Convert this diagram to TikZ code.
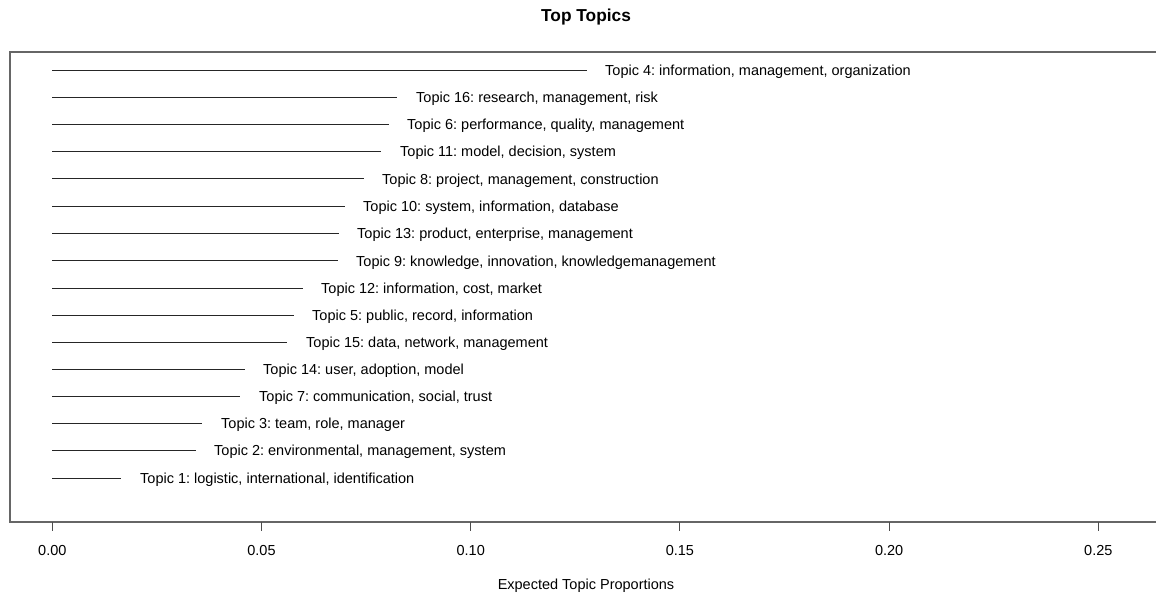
\documentclass[tikz,border=0pt]{standalone}
\usepackage{fontspec}
\setmainfont{Liberation Sans}
\frenchspacing
\begin{document}
\begin{tikzpicture}[x=1pt,y=-1pt,
  lbl/.style={anchor=base west,inner sep=0pt,font=\fontsize{14.5}{17}\selectfont},
  ticklbl/.style={anchor=center,inner sep=0pt,font=\fontsize{14.5}{17}\selectfont},
  bar/.style={draw=black!85,line width=0.9pt},
  frame/.style={draw=black!60,line width=1.3pt},
  tickmark/.style={draw=black!70,line width=0.9pt}]
\useasboundingbox (0,0) rectangle (1156,598);
% title
\node[font=\fontsize{17.3}{20}\selectfont\bfseries,inner sep=0pt] (title) at (586,17.5) {Top Topics};
% frame (open at the right, cut by the image edge)
\coordinate (fTR) at (1156,52);
\coordinate (fTL) at (10,52);
\coordinate (fBL) at (10,522);
\coordinate (fBR) at (1156,522);
\draw[frame] (fTR) -- (fTL) -- (fBL) -- (fBR);
% topic lines and labels
\foreach \i/\yy/\xe/\xt/\txt in {
 a/70/587/605/{Topic 4: information, management, organization},
 b/97/397/416/{Topic 16: research, management, risk},
 c/124.3/389/407/{Topic 6: performance, quality, management},
 d/151.6/381/400/{Topic 11: model, decision, system},
 e/178.9/364/382/{Topic 8: project, management, construction},
 f/206.2/345/363/{Topic 10: system, information, database},
 g/233.5/339/357/{Topic 13: product, enterprise, management},
 h/260.8/338/356/{Topic 9: knowledge, innovation, knowledgemanagement},
 i/288/303/321/{Topic 12: information, cost, market},
 j/315/294/312/{Topic 5: public, record, information},
 k/342/287/306/{Topic 15: data, network, management},
 l/369/245/263/{Topic 14: user, adoption, model},
 m/396/240/259/{Topic 7: communication, social, trust},
 n/423.3/202/221/{Topic 3: team, role, manager},
 o/450.6/196/214/{Topic 2: environmental, management, system},
 p/478/121/140/{Topic 1: logistic, international, identification}} {
  \coordinate (s\i) at (52.3,\yy);
  \coordinate (e\i) at (\xe,\yy);
  \draw[bar] (s\i) -- (e\i);
  \node[lbl] (t\i) at (\xt,\yy+5.2) {\txt};
}
% axis ticks and labels
\foreach \k/\xx/\v in {0/52.3/0.00,1/261.5/0.05,2/470.7/0.10,3/679.9/0.15,4/889.1/0.20,5/1098.3/0.25} {
  \coordinate (ka\k) at (\xx,522);
  \coordinate (kb\k) at (\xx,531);
  \draw[tickmark] (ka\k) -- (kb\k);
  \node[ticklbl] (kl\k) at (\xx,550) {\v};
}
\node[ticklbl] (xlab) at (586,585.5) {Expected Topic Proportions};
\end{tikzpicture}
\end{document}
